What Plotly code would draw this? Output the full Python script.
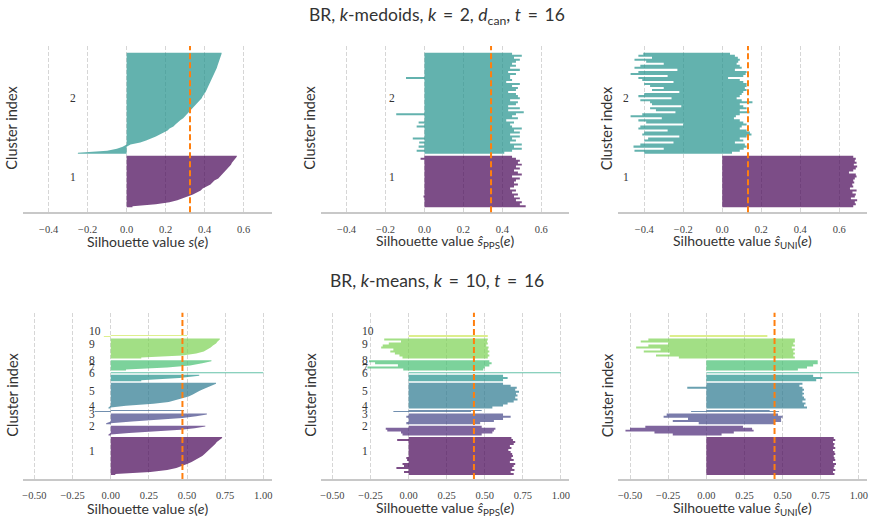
import plotly.graph_objects as go

# ---------------- data ----------------
TS = "\u2009"  # thin space used for math-like spacing around '='
row_titles = ["BR, <i>k</i>-medoids, <i>k</i>" + TS + " = " + TS + "2, <i>d</i><sub>can</sub>, <i>t</i>" + TS + " = " + TS + "16",
              "BR, <i>k</i>-means, <i>k</i>" + TS + " = " + TS + "10, <i>t</i>" + TS + " = " + TS + "16"]
x_titles = ["Silhouette value <i>s</i>(<i>e</i>)",
            "Silhouette value <i>ŝ</i><sub>PPS</sub>(<i>e</i>)",
            "Silhouette value <i>ŝ</i><sub>UNI</sub>(<i>e</i>)"]

mean_top = [0.325, 0.342, 0.132]
mean_bot = [0.470, 0.429, 0.447]

sizes_top = [258, 505]
sizes_bot = [190, 48, 53, 10, 128, 32, 5, 52, 101, 8]

# k-medoids, s(e): sorted silhouette values per cluster (bottom -> top)
med_s = [
    [0.03, 0.15, 0.22, 0.26, 0.29, 0.32, 0.34, 0.36, 0.38, 0.39, 0.41, 0.43, 0.44,
     0.45, 0.47, 0.48, 0.49, 0.50, 0.51, 0.52, 0.53, 0.535, 0.54, 0.55, 0.555, 0.565],
    [-0.25, -0.10, -0.05, -0.02, 0.02, 0.07, 0.10, 0.13, 0.15, 0.17, 0.19, 0.21, 0.22,
     0.24, 0.25, 0.26, 0.275, 0.29, 0.30, 0.31, 0.32, 0.33, 0.34, 0.35, 0.36, 0.37,
     0.38, 0.385, 0.39, 0.40, 0.405, 0.41, 0.415, 0.42, 0.425, 0.43, 0.435, 0.44,
     0.445, 0.45, 0.455, 0.46, 0.463, 0.466, 0.47, 0.473, 0.476, 0.479, 0.482, 0.487],
]

# k-medoids, s_PPS(e): per-row max / min (bottom -> top)
med_pps_hi = [
    [0.52, 0.49, 0.50, 0.47, 0.49, 0.46, 0.48, 0.45, 0.47, 0.44, 0.46, 0.48, 0.46,
     0.47, 0.49, 0.45, 0.50, 0.48, 0.46, 0.49, 0.47, 0.50, 0.48, 0.49, 0.47, 0.45],
    [0.41, 0.45, 0.50, 0.46, 0.50, 0.44, 0.47, 0.45, 0.49, 0.44, 0.49, 0.46, 0.50,
     0.45, 0.44, 0.46, 0.42, 0.48, 0.45, 0.47, 0.51, 0.43, 0.49, 0.43, 0.47, 0.48,
     0.44, 0.49, 0.48, 0.47, 0.43, 0.47, 0.48, 0.45, 0.49, 0.42, 0.45, 0.44, 0.44,
     0.47, 0.43, 0.49, 0.44, 0.47, 0.45, 0.47, 0.49, 0.46, 0.50, 0.45],
]
med_pps_lo = [
    [0, 0, 0, 0, 0, -0.005, 0, 0, 0, 0, 0, 0, 0, 0, 0, 0, 0, 0, 0, 0, 0, 0, 0, 0, -0.02, 0],
    [0, -0.04, 0, -0.03, 0, -0.027, 0, -0.06, 0, 0, 0, 0, 0, -0.04, 0, -0.03, 0, 0,
     0, -0.145, 0, 0, 0, 0, 0, 0, 0, 0, 0, 0, 0, 0, 0, 0, 0, 0, 0, -0.095, 0, 0, 0,
     0, 0, 0, 0, 0, 0, 0, 0, 0],
]

# k-medoids, s_UNI(e)
med_uni_hi = [
    [0.672, 0.685, 0.68, 0.692, 0.66, 0.68, 0.685, 0.668, 0.689, 0.655, 0.672, 0.667,
     0.677, 0.672, 0.68, 0.689, 0.685, 0.65, 0.672, 0.685, 0.692, 0.675, 0.689, 0.68,
     0.685, 0.672],
    [0.05, 0.09, 0.11, 0.125, 0.116, 0.065, 0.108, 0.09, 0.125, 0.15, 0.142, 0.125,
     0.09, 0.10, 0.125, 0.108, 0.09, 0.06, 0.07, 0.09, 0.14, 0.09, 0.125, 0.108, 0.09,
     0.155, 0.10, 0.074, 0.09, 0.10, 0.108, 0.125, 0.116, 0.125, 0.125, 0.108, 0.09,
     0.03, 0.108, 0.12, 0.125, 0.065, 0.10, 0.09, 0.074, 0.082, 0.09, 0.08, 0.065, 0.04],
]
med_uni_lo = [
    [0] * 26,
    [-0.40, -0.45, -0.30, -0.455, -0.42, -0.25, -0.40, -0.38, -0.22, -0.41, -0.40,
     -0.28, -0.43, -0.42, -0.20, -0.39, -0.43, -0.31, -0.47, -0.41, -0.24, -0.34,
     -0.37, -0.21, -0.36, -0.37, -0.42, -0.26, -0.43, -0.40, -0.22, -0.36, -0.30,
     -0.37, -0.40, -0.25, -0.41, -0.43, -0.28, -0.47, -0.43, -0.23, -0.45, -0.42,
     -0.30, -0.39, -0.45, -0.36, -0.43, -0.405],
]

# k-means, s(e): sorted values per cluster (bottom -> top)
km_s = [
    [0.03, 0.26, 0.37, 0.43, 0.47, 0.50, 0.53, 0.555, 0.58, 0.60, 0.615, 0.63, 0.645,
     0.66, 0.67, 0.685, 0.695, 0.71, 0.73],
    [-0.015, 0.12, 0.33, 0.46, 0.55, 0.62],
    [-0.03, 0.14, 0.35, 0.47, 0.56, 0.63],
    [-0.105, 0.48],
    [-0.015, 0.10, 0.28, 0.38, 0.43, 0.48, 0.51, 0.535, 0.555, 0.58, 0.605, 0.63, 0.655, 0.69],
    [0.20, 0.45, 0.58],
    [1.0],
    [0.10, 0.37, 0.52, 0.60, 0.66],
    [0.20, 0.47, 0.56, 0.61, 0.635, 0.655, 0.67, 0.69, 0.70, 0.715],
    [-0.045, 0.50],
]

# k-means, s_PPS(e)
km_pps_hi = [
    [0.69, 0.67, 0.695, 0.68, 0.69, 0.70, 0.665, 0.69, 0.675, 0.685, 0.68, 0.67, 0.655,
     0.675, 0.665, 0.69, 0.70, 0.685, 0.675],
    [0.48, 0.55, 0.56, 0.57, 0.48],
    [0.47, 0.56, 0.62, 0.67, 0.62],
    [0.41, 0.48],
    [0.55, 0.62, 0.65, 0.69, 0.715, 0.70, 0.715, 0.705, 0.725, 0.70, 0.71, 0.67, 0.62],
    [0.62, 0.65, 0.62],
    [1.0],
    [0.49, 0.50, 0.53, 0.545, 0.53],
    [0.52, 0.53, 0.52, 0.53, 0.52, 0.525, 0.51, 0.52, 0.515, 0.52],
    [0.52],
]
km_pps_lo = [
    [0, -0.03, 0, -0.08, -0.03, -0.04, 0, -0.01, -0.015, 0, 0, 0, 0, 0, 0, 0, 0, -0.075, 0],
    [-0.04, -0.05, -0.14, -0.15, 0],
    [-0.015, 0, 0, -0.015, 0],
    [-0.10, 0],
    [0, 0, 0, 0, 0, 0, 0, 0, 0, 0, 0, 0, 0],
    [0, 0, 0],
    [0],
    [-0.035, -0.27, -0.07, -0.22, -0.26],
    [-0.04, -0.06, -0.09, -0.12, -0.10, -0.18, -0.17, -0.13, -0.05, -0.16],
    [0],
]

# k-means, s_UNI(e)
km_uni_hi = [
    [0.84, 0.83, 0.845, 0.835, 0.84, 0.85, 0.83, 0.845, 0.84, 0.835, 0.845, 0.84, 0.83,
     0.845, 0.835, 0.84, 0.83, 0.845, 0.835],
    [0.10, 0.18, 0.31, 0.30, 0.24],
    [0.45, 0.49, 0.49, 0.50, 0.47],
    [0.477, 0.415],
    [0.66, 0.64, 0.65, 0.63, 0.65, 0.64, 0.63, 0.64, 0.63, 0.64, 0.63, 0.61, 0.63],
    [0.72, 0.76, 0.70],
    [1.0],
    [0.60, 0.66, 0.70, 0.73, 0.73],
    [0.58, 0.57, 0.58, 0.57, 0.58, 0.56, 0.58, 0.57, 0.58, 0.58],
    [0.40],
]
km_uni_lo = [
    [0] * 19,
    [-0.22, -0.34, -0.53, -0.50, -0.40],
    [-0.05, -0.22, -0.12, -0.28, -0.26],
    [-0.10, 0],
    [0, 0, 0, 0, 0, 0, 0, 0, 0, 0, -0.125, 0, 0],
    [0, 0, 0],
    [0],
    [0, 0, 0, 0, 0],
    [-0.18, -0.33, -0.24, -0.41, -0.30, -0.46, -0.38, -0.25, -0.43, -0.38],
    [-0.24],
]

# ---------------- styling / layout ----------------
VIR2 = ["#440154", "#21918c"]
VIR10 = ["#440154", "#482475", "#414487", "#355f8d", "#2a788e",
         "#21918c", "#22a884", "#44bf70", "#7ad151", "#bddf26"]

W, H = 874, 522
XDOM = [(22.7, 271.7), (320.7, 569.3), (618.3, 867.3)]
YDOM_TOP = (46.0, 212.3)
YDOM_BOT = (312.7, 479.0)
XR_TOP = [-0.533, 0.744]
XR_BOT = [-0.577, 1.055]
YR = [0, 831.5]
TICK_FONT = dict(family="Liberation Serif", size=10.5, color="#444")
LBL_FONT = dict(family="Lato", size=14, color="#333")


def rgba(h, a=0.7):
    h = h.lstrip("#")
    return "rgba(%d,%d,%d,%.2f)" % (int(h[0:2], 16), int(h[2:4], 16), int(h[4:6], 16), a)


def starts(sizes, y0, gap):
    out, y = [], y0
    for s in sizes:
        out.append(y)
        y += s + gap
    return out


def poly_step(hi, lo, y0, size):
    n = len(hi)
    h = size / n
    xs, ys = [], []
    for i in range(n):
        xs += [hi[i], hi[i]]
        ys += [y0 + i * h, y0 + (i + 1) * h]
    for i in reversed(range(n)):
        xs += [lo[i], lo[i]]
        ys += [y0 + (i + 1) * h, y0 + i * h]
    return xs, ys


def poly_smooth(hi, lo, y0, size):
    n = len(hi)
    h = size / n
    yc = [y0 + (i + 0.5) * h for i in range(n)]
    xs = [hi[0]] + list(hi) + [hi[-1]]
    ys = [y0] + yc + [y0 + size]
    xs += [lo[-1]] + list(lo[::-1]) + [lo[0]]
    ys += [y0 + size] + yc[::-1] + [y0]
    return xs, ys


def split_sorted(vals_list):
    hi = [[max(v, 0) for v in c] for c in vals_list]
    lo = [[min(v, 0) for v in c] for c in vals_list]
    return hi, lo


panels = []
h, l = split_sorted(med_s)
panels.append((h, l, sizes_top, VIR2, mean_top[0], 0, True))
panels.append((med_pps_hi, med_pps_lo, sizes_top, VIR2, mean_top[1], 0, False))
panels.append((med_uni_hi, med_uni_lo, sizes_top, VIR2, mean_top[2], 0, False))
h, l = split_sorted(km_s)
panels.append((h, l, sizes_bot, VIR10, mean_bot[0], 1, True))
panels.append((km_pps_hi, km_pps_lo, sizes_bot, VIR10, mean_bot[1], 1, False))
panels.append((km_uni_hi, km_uni_lo, sizes_bot, VIR10, mean_bot[2], 1, False))

fig = go.Figure()
annotations = []
shapes = []
layout_axes = {}

for p, (hi, lo, sizes, cols, mean, row, smooth) in enumerate(panels):
    ax = "" if p == 0 else str(p + 1)
    xa, ya = "x" + ax, "y" + ax
    col = p % 3
    y0, gap = (25, 10) if row == 0 else (20, 8)
    st = starts(sizes, y0, gap)
    for c in range(len(sizes)):
        if smooth and len(hi[c]) >= 3:
            xs, ys = poly_smooth(hi[c], lo[c], st[c], sizes[c])
        else:
            xs, ys = poly_step(hi[c], lo[c], st[c], sizes[c])
        fig.add_trace(go.Scatter(x=xs, y=ys, mode="lines", fill="toself",
                                 fillcolor=rgba(cols[c]), line=dict(width=0),
                                 hoverinfo="skip", showlegend=False,
                                 xaxis=xa, yaxis=ya))
    xmin = min(min(c) for c in lo)
    for c in range(len(sizes)):
        annotations.append(dict(x=xmin - 0.05, y=st[c] + sizes[c] / 2, xref=xa, yref=ya,
                                text=str(c + 1), showarrow=False, xanchor="left",
                                yanchor="bottom", yshift=-3,
                                font=dict(family="Liberation Serif", size=11.5, color="#333")))
    shapes.append(dict(type="line", xref=xa, yref=ya + " domain", x0=mean, x1=mean,
                       y0=0, y1=1, layer="above",
                       line=dict(color="#ff7f0e", width=2, dash="6px,3px")))
    ydom = YDOM_TOP if row == 0 else YDOM_BOT
    xd = XDOM[col]
    layout_axes["xaxis" + ax] = dict(
        domain=[xd[0] / W, xd[1] / W], anchor=ya,
        range=XR_TOP if row == 0 else XR_BOT,
        tick0=0, dtick=0.2 if row == 0 else 0.25,
        tickformat=".1f" if row == 0 else ".2f",
        showgrid=True, gridcolor="#d6d6d6", gridwidth=1, griddash="4px,2px",
        zeroline=False, showline=True, linecolor="#c8c8c8", linewidth=1.5,
        ticks="outside", ticklen=6, tickcolor="rgba(0,0,0,0)",
        tickfont=TICK_FONT, fixedrange=True)
    layout_axes["yaxis" + ax] = dict(
        domain=[1 - ydom[1] / H, 1 - ydom[0] / H], anchor=xa, range=YR,
        visible=False, fixedrange=True)
    # axis titles
    xt_y = 241.7 if row == 0 else 508.0
    annotations.append(dict(x=(xd[0] + xd[1]) / 2 / W, y=1 - xt_y / H, xref="paper",
                            yref="paper", text=x_titles[col], showarrow=False,
                            xanchor="center", yanchor="middle", font=LBL_FONT))
    yt_y = 128 if row == 0 else 395
    annotations.append(dict(x=(xd[0] - 11) / W, y=1 - yt_y / H, xref="paper",
                            yref="paper", text="Cluster index", showarrow=False,
                            textangle=-90, xanchor="center", yanchor="middle",
                            font=dict(family="Lato", size=14.5, color="#333")))

for r, ty in enumerate([16, 280]):
    annotations.append(dict(x=0.5, y=1 - ty / H, xref="paper", yref="paper",
                            text=row_titles[r], showarrow=False, xanchor="center",
                            yanchor="middle",
                            font=dict(family="Lato", size=17.5, color="#333")))

fig.update_layout(width=W, height=H, margin=dict(l=0, r=0, t=0, b=0),
                  paper_bgcolor="white", plot_bgcolor="white",
                  annotations=annotations, shapes=shapes, showlegend=False,
                  **layout_axes)
fig.write_html("out.html")
